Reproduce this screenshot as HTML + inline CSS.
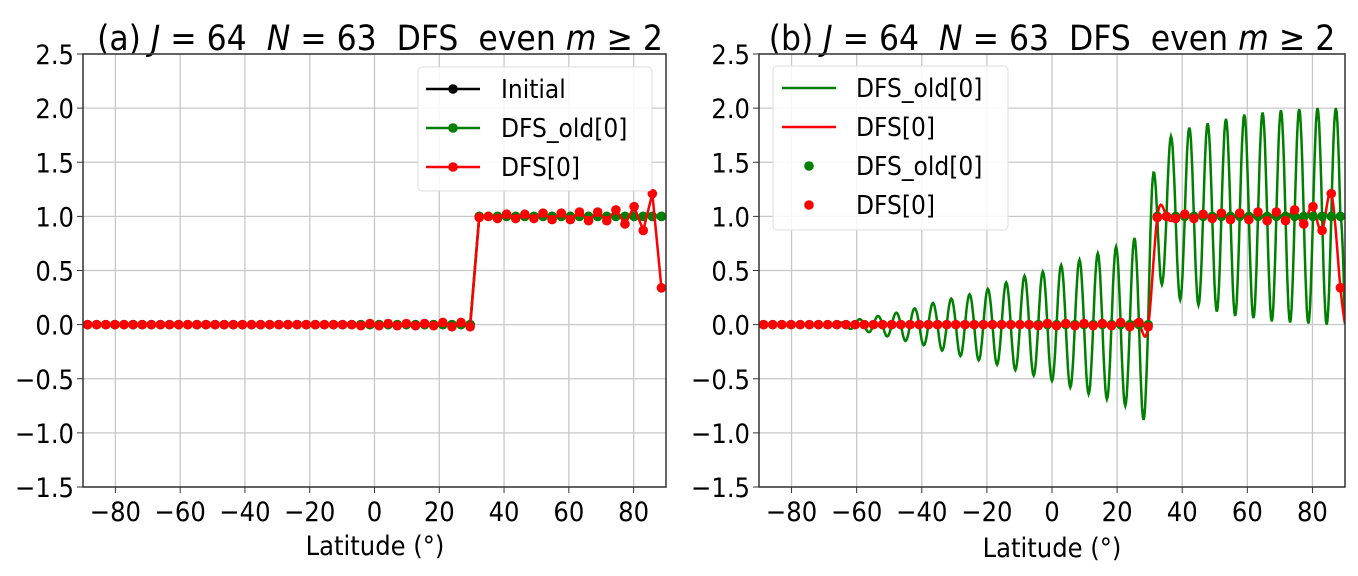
<!DOCTYPE html>
<html><head><meta charset="utf-8"><style>
html,body{margin:0;padding:0;background:#fff;}
svg{display:block;font-family:"DejaVu Sans Condensed","DejaVu Sans","Liberation Sans",sans-serif;}
</style></head><body>
<svg id="fig" width="1358" height="576" viewBox="0 0 1358 576" xml:space="preserve">
<text x="380" y="50" font-size="35" text-anchor="middle" style="white-space:pre">(a) <tspan font-style="italic">J</tspan> = 64  <tspan font-style="italic">N</tspan> = 63  DFS  even <tspan font-style="italic">m</tspan> ≥ 2</text>
<text x="1052" y="50" font-size="35" text-anchor="middle" style="white-space:pre">(b) <tspan font-style="italic">J</tspan> = 64  <tspan font-style="italic">N</tspan> = 63  DFS  even <tspan font-style="italic">m</tspan> ≥ 2</text>
<text x="375" y="555" font-size="27" text-anchor="middle">Latitude (°)</text>
<text x="1052" y="557" font-size="27" text-anchor="middle">Latitude (°)</text>
<g id="pa"></g>
<g id="pb"></g>
</svg>
<script>
const xTicks=[-80,-60,-40,-20,0,20,40,60,80];
const yTicks=[-1.5,-1.0,-0.5,0.0,0.5,1.0,1.5,2.0,2.5];
const lats=[-88.59,-85.78,-82.97,-80.16,-77.34,-74.53,-71.72,-68.91,-66.09,-63.28,-60.47,-57.66,-54.84,-52.03,-49.22,-46.41,-43.59,-40.78,-37.97,-35.16,-32.34,-29.53,-26.72,-23.91,-21.09,-18.28,-15.47,-12.66,-9.84,-7.03,-4.22,-1.41,1.41,4.22,7.03,9.84,12.66,15.47,18.28,21.09,23.91,26.72,29.53,32.34,35.16,37.97,40.78,43.59,46.41,49.22,52.03,54.84,57.66,60.47,63.28,66.09,68.91,71.72,74.53,77.34,80.16,82.97,85.78,88.59];
const initialVals=[0,0,0,0,0,0,0,0,0,0,0,0,0,0,0,0,0,0,0,0,0,0,0,0,0,0,0,0,0,0,0,0,0,0,0,0,0,0,0,0,0,0,0,1,1,1,1,1,1,1,1,1,1,1,1,1,1,1,1,1,1,1,1,1];
const dfsOldVals=initialVals.slice();
const dfsVals=[0,0,0,0,0,0,0,0,0,0,0,0,0,0,0,0,0,0,0,0,0,0,0,0,0,0,0,0,0,0,-0.01,0.01,-0.01,0.01,-0.01,0.01,-0.01,0.01,-0.01,0.02,-0.02,0.02,-0.02,0.99,1.0,0.98,1.02,0.98,1.02,0.98,1.03,0.97,1.03,0.97,1.04,0.96,1.04,0.96,1.06,0.93,1.09,0.87,1.21,0.34];
const oldExtrema=[0,0,0,0,0,0,0,-0.01,0.02,-0.04,0.05,-0.07,0.08,-0.11,0.11,-0.15,0.15,-0.19,0.2,-0.24,0.24,-0.29,0.28,-0.33,0.33,-0.37,0.39,-0.42,0.45,-0.47,0.49,-0.52,0.55,-0.58,0.6,-0.64,0.66,-0.69,0.72,-0.75,0.8,-0.88,1.35,0.37,1.74,0.23,1.82,0.18,1.86,0.12,1.9,0.08,1.94,0.06,1.96,0.03,1.98,0.02,1.99,0.01,2.0,0.0,2.0];
const oldEnd=0.0;
const NS='http://www.w3.org/2000/svg';
function mk(p,tag,attrs){const e=document.createElementNS(NS,tag);for(const k in attrs)e.setAttribute(k,attrs[k]);p.appendChild(e);return e;}
function spline(xs,ys){const n=xs.length;const h=[],a=[],l=[1],mu=[0],z=[0],c=new Array(n).fill(0),b=[],d=[];
for(let i=0;i<n-1;i++)h.push(xs[i+1]-xs[i]);
for(let i=1;i<n-1;i++)a[i]=3/h[i]*(ys[i+1]-ys[i])-3/h[i-1]*(ys[i]-ys[i-1]);
for(let i=1;i<n-1;i++){l[i]=2*(xs[i+1]-xs[i-1])-h[i-1]*mu[i-1];mu[i]=h[i]/l[i];z[i]=(a[i]-h[i-1]*z[i-1])/l[i];}
l[n-1]=1;z[n-1]=0;
for(let j=n-2;j>=0;j--){c[j]=z[j]-mu[j]*c[j+1];b[j]=(ys[j+1]-ys[j])/h[j]-h[j]*(c[j+1]+2*c[j])/3;d[j]=(c[j+1]-c[j])/(3*h[j]);}
return t=>{let j=0;while(j<n-2&&t>xs[j+1])j++;const dx=t-xs[j];return ys[j]+b[j]*dx+c[j]*dx*dx+d[j]*dx*dx*dx;};}
function panel(g,L,R,T,B,isB){
 const sx=v=>L+(v+90)/180*(R-L), sy=v=>B-(v+1.5)/4*(B-T);
 const gridG=mk(g,'g',{});
 xTicks.forEach(t=>{mk(gridG,'line',{x1:sx(t),x2:sx(t),y1:T,y2:B,stroke:'#c8c8c8','stroke-width':1.3});
  mk(g,'line',{x1:sx(t),x2:sx(t),y1:B,y2:B+6,stroke:'#333'});
  const tx=mk(g,'text',{x:sx(t),y:B+34,'font-size':27,'text-anchor':'middle'});tx.textContent=(t<0?'\u2212'+(-t):t);
  
  });
 yTicks.forEach(t=>{mk(gridG,'line',{x1:L,x2:R,y1:sy(t),y2:sy(t),stroke:'#c8c8c8','stroke-width':1.3});
  mk(g,'line',{x1:L-6,x2:L,y1:sy(t),y2:sy(t),stroke:'#333'});
  const tx=mk(g,'text',{x:L-9,y:sy(t)+10,'font-size':27,'text-anchor':'end'});tx.textContent=(t<0?'\u2212'+(-t).toFixed(1):t.toFixed(1));
  
  });
 const clip='c'+(isB?'b':'a');
 const cp=mk(g,'clipPath',{id:clip});mk(cp,'rect',{x:L,y:T,width:R-L,height:B-T});
 const sg=mk(g,'g',{'clip-path':'url(#'+clip+')'});
 if(!isB){
  const ptsStr=arr=>arr.map((v,i)=>sx(lats[i])+','+sy(v)).join(' ');
  [[initialVals,'#000','initial-series'],[dfsOldVals,'#008000','dfs-old-series'],[dfsVals,'#ff0000','dfs-series']].forEach(([arr,col,nm])=>{
   const sgr=mk(sg,'g',{});
   mk(sgr,'polyline',{points:ptsStr(arr),fill:'none',stroke:col,'stroke-width':2.5});
   arr.forEach((v,i)=>mk(sgr,'circle',{cx:sx(lats[i]),cy:sy(v),r:4.8,fill:col}));});
 } else {
  let d='';
  for(let k=0;k<lats.length-1;k++){const x0=lats[k],x1=lats[k+1],y0=dfsOldVals[k],y1=dfsOldVals[k+1];const e=oldExtrema[k]-(y0+y1)/2;
   for(let s=0;s<=12;s++){const t=s/12;const x=x0+(x1-x0)*t;const y=y0+(y1-y0)*t+e*Math.sin(Math.PI*t);d+=(d?'L':'M')+sx(x).toFixed(1)+','+sy(y).toFixed(1);}}
  {const x0=lats[lats.length-1],y0=dfsOldVals[lats.length-1];for(let s=1;s<=6;s++){const t=s/6;const x=x0+(90-x0)*t;const y=y0+(oldEnd-y0)*(1-Math.cos(Math.PI*t/2));d+='L'+sx(x).toFixed(1)+','+sy(y).toFixed(1);}}
  const gl=mk(sg,'path',{d:d,fill:'none',stroke:'#008000','stroke-width':2.5});
  
  
  const xs=lats.concat([90]),ys=dfsVals.concat([0]);const f=spline(xs,ys);let d2='';
  for(let x=lats[0];x<=90;x+=0.25){d2+=(d2?'L':'M')+sx(x).toFixed(1)+','+sy(f(x)).toFixed(1);}
  const rl=mk(sg,'path',{d:d2,fill:'none',stroke:'#ff0000','stroke-width':2.5});
  
  
  dfsOldVals.forEach((v,i)=>{const c=mk(sg,'circle',{cx:sx(lats[i]),cy:sy(v),r:4.8,fill:'#008000'});
   
   });
  dfsVals.forEach((v,i)=>{const c=mk(sg,'circle',{cx:sx(lats[i]),cy:sy(v),r:4.8,fill:'#ff0000'});
   
   });
 }
 mk(g,'rect',{x:L,y:T,width:R-L,height:B-T,fill:'none',stroke:'#333','stroke-width':1.5});
 const lg=mk(g,'g',{});
 if(!isB){
  mk(lg,'rect',{x:418,y:67,width:234,height:124,rx:4,fill:'#fff','fill-opacity':0.85,stroke:'#ddd'});
  [['Initial','#000',89],['DFS_old[0]','#008000',128],['DFS[0]','#ff0000',167]].forEach(([t,c,y])=>{
   const e=mk(lg,'g',{});
   mk(e,'line',{x1:426,x2:480,y1:y,y2:y,stroke:c,'stroke-width':2.5});mk(e,'circle',{cx:453,cy:y,r:4.8,fill:c});
   const tx=mk(e,'text',{x:501,y:y+9,'font-size':26});tx.textContent=t;});
 } else {
  mk(lg,'rect',{x:773,y:66,width:235,height:164,rx:4,fill:'#fff','fill-opacity':0.85,stroke:'#ddd'});
  [['DFS_old[0]','#008000',88,1],['DFS[0]','#ff0000',127,1],['DFS_old[0]','#008000',166,0],['DFS[0]','#ff0000',205,0]].forEach(([t,c,y,ln])=>{
   const e=mk(lg,'g',{});
   if(ln)mk(e,'line',{x1:782,x2:836,y1:y,y2:y,stroke:c,'stroke-width':2.5});else mk(e,'circle',{cx:809,cy:y,r:4.8,fill:c});
   const tx=mk(e,'text',{x:856,y:y+9,'font-size':26});tx.textContent=t;});
 }
}
panel(document.getElementById('pa'),83,666,54,487,false);
panel(document.getElementById('pb'),759,1345,54,487,true);
</script>
</body></html>
